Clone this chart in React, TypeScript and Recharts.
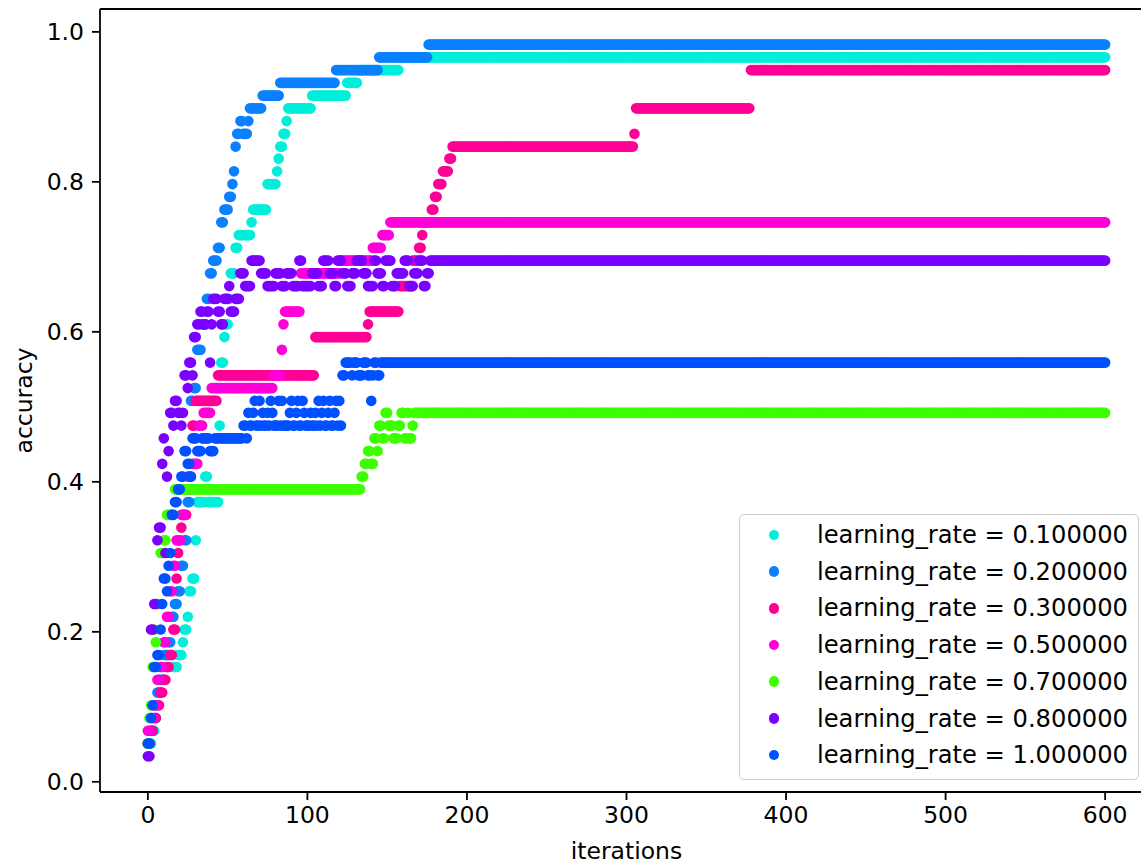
import React from 'react';
import { ScatterChart, Scatter, XAxis, YAxis, ReferenceLine } from 'recharts';

type Seg = [number, number, number]; // [first iteration, last iteration, accuracy]

const ITER_TICKS = [0, 100, 200, 300, 400, 500, 600];
const ACC_TICKS = [0, 0.2, 0.4, 0.6, 0.8, 1.0];
const ITER_DOMAIN: [number, number] = [-30, 630];
const ACC_DOMAIN: [number, number] = [-0.0136, 1.0305];

const LEARNING_RATES = ['0.100000', '0.200000', '0.300000', '0.500000', '0.700000', '0.800000', '1.000000'];
const COLORS = ['#00efda', '#0a80ff', '#ff0096', '#ff00d8', '#3cff00', '#7a00ff', '#0050ff'];

const lr010: Seg[] = [
  [0, 2, 0.051], [3, 4, 0.068], [5, 6, 0.102], [7, 9, 0.136], [10, 15, 0.169], [16, 18, 0.153],
  [19, 21, 0.169], [22, 22, 0.186], [23, 24, 0.203], [25, 25, 0.220], [26, 27, 0.254], [28, 29, 0.271],
  [30, 30, 0.322], [31, 35, 0.373], [36, 37, 0.407], [38, 44, 0.373], [45, 45, 0.475], [46, 47, 0.559],
  [48, 48, 0.593], [49, 50, 0.610], [51, 51, 0.644], [52, 54, 0.678], [55, 56, 0.712], [57, 64, 0.729],
  [65, 65, 0.746], [66, 74, 0.763], [75, 80, 0.797], [81, 81, 0.814], [82, 82, 0.831], [83, 84, 0.847],
  [85, 86, 0.864], [87, 87, 0.881], [88, 102, 0.898], [103, 124, 0.915], [125, 131, 0.932],
  [132, 157, 0.949], [158, 600, 0.966],
];

const lr020: Seg[] = [
  [0, 1, 0.051], [2, 3, 0.068], [4, 5, 0.085], [6, 8, 0.119], [9, 10, 0.136], [11, 12, 0.169],
  [13, 14, 0.186], [15, 16, 0.220], [17, 18, 0.237], [19, 20, 0.254], [21, 22, 0.288], [23, 24, 0.322],
  [25, 26, 0.373], [27, 28, 0.508], [29, 30, 0.525], [31, 33, 0.576], [34, 36, 0.610], [37, 38, 0.644],
  [39, 40, 0.678], [41, 43, 0.695], [44, 45, 0.712], [46, 47, 0.746], [48, 50, 0.763], [51, 52, 0.780],
  [53, 53, 0.797], [54, 54, 0.814], [55, 55, 0.847], [56, 57, 0.864], [58, 59, 0.881], [60, 62, 0.864],
  [63, 63, 0.881], [64, 71, 0.898], [72, 82, 0.915], [83, 117, 0.932], [118, 144, 0.949],
  [145, 175, 0.966], [176, 600, 0.983],
];

const lr030: Seg[] = [
  [0, 1, 0.051], [2, 3, 0.068], [4, 5, 0.085], [6, 7, 0.102], [8, 9, 0.119], [10, 11, 0.136],
  [12, 13, 0.153], [14, 15, 0.169], [16, 17, 0.203], [18, 18, 0.271], [19, 19, 0.305], [20, 20, 0.322],
  [21, 21, 0.339], [22, 24, 0.356], [25, 27, 0.407], [28, 29, 0.475], [30, 43, 0.508], [44, 104, 0.542],
  [105, 137, 0.593], [138, 138, 0.610], [139, 157, 0.627], [158, 165, 0.661], [166, 169, 0.695],
  [170, 171, 0.712], [172, 172, 0.729], [173, 177, 0.746], [178, 179, 0.763], [180, 181, 0.780],
  [182, 184, 0.797], [185, 188, 0.814], [189, 190, 0.831], [191, 304, 0.847], [305, 305, 0.864],
  [306, 377, 0.898], [378, 600, 0.949],
];

const lr050: Seg[] = [
  [0, 1, 0.068], [2, 3, 0.085], [4, 5, 0.102], [6, 7, 0.136], [8, 9, 0.153], [10, 11, 0.186],
  [12, 13, 0.220], [14, 15, 0.254], [16, 17, 0.288], [18, 20, 0.322], [21, 23, 0.356], [24, 27, 0.390],
  [28, 31, 0.424], [32, 34, 0.475], [35, 39, 0.492], [40, 78, 0.525], [79, 83, 0.542], [84, 84, 0.576],
  [85, 85, 0.610], [86, 95, 0.627], [96, 120, 0.678], [121, 140, 0.695], [141, 146, 0.712],
  [147, 151, 0.729], [152, 600, 0.746],
];

const lr070: Seg[] = [
  [0, 0, 0.051], [1, 1, 0.085], [2, 2, 0.102], [3, 3, 0.153], [4, 4, 0.203], [5, 5, 0.186],
  [6, 7, 0.237], [8, 9, 0.305], [10, 11, 0.322], [12, 16, 0.356], [17, 133, 0.390], [134, 135, 0.407],
  [136, 137, 0.424], [138, 139, 0.441], [140, 141, 0.424], [142, 143, 0.458], [144, 144, 0.441],
  [145, 146, 0.475], [147, 148, 0.458], [149, 150, 0.492], [151, 153, 0.475], [154, 156, 0.458],
  [157, 158, 0.475], [159, 160, 0.492], [161, 162, 0.458], [163, 163, 0.492], [164, 165, 0.458],
  [166, 166, 0.475], [167, 600, 0.492],
];

const lr080: Seg[] = [
  [0, 1, 0.034], [2, 3, 0.203], [4, 5, 0.237], [6, 6, 0.322], [7, 8, 0.339], [9, 9, 0.424],
  [10, 10, 0.458], [11, 11, 0.305], [12, 12, 0.407], [13, 13, 0.441], [14, 15, 0.492], [16, 16, 0.475],
  [17, 18, 0.508], [19, 20, 0.492], [21, 21, 0.475], [22, 22, 0.492], [23, 24, 0.542], [25, 25, 0.525],
  [26, 27, 0.559], [28, 28, 0.542], [29, 30, 0.593], [31, 32, 0.610], [33, 34, 0.627], [35, 36, 0.610],
  [37, 38, 0.627], [39, 39, 0.559], [40, 40, 0.610], [41, 43, 0.644], [44, 45, 0.627], [46, 47, 0.610],
  [48, 50, 0.644], [51, 51, 0.661], [52, 54, 0.627], [55, 57, 0.644], [58, 60, 0.678], [61, 64, 0.661],
  [65, 70, 0.695], [71, 74, 0.678], [75, 79, 0.661], [80, 83, 0.678], [84, 86, 0.661], [87, 90, 0.678],
  [91, 94, 0.661], [95, 96, 0.695], [97, 102, 0.661], [103, 106, 0.678], [107, 109, 0.661],
  [110, 113, 0.695], [114, 116, 0.678], [117, 118, 0.661], [119, 121, 0.695], [122, 124, 0.678],
  [125, 127, 0.661], [128, 130, 0.678], [131, 134, 0.695], [135, 137, 0.678], [138, 141, 0.661],
  [142, 143, 0.695], [144, 146, 0.678], [147, 148, 0.661], [149, 152, 0.695], [153, 155, 0.661],
  [156, 160, 0.678], [161, 163, 0.695], [164, 166, 0.661], [167, 169, 0.678], [170, 172, 0.695],
  [173, 174, 0.661], [175, 176, 0.678], [177, 600, 0.695],
];

const lr100: Seg[] = [
  [0, 1, 0.051], [2, 2, 0.085], [3, 3, 0.102], [4, 5, 0.153], [6, 7, 0.169], [8, 8, 0.203],
  [9, 9, 0.237], [10, 11, 0.271], [12, 12, 0.254], [13, 13, 0.288], [14, 14, 0.305], [15, 16, 0.356],
  [17, 18, 0.373], [19, 20, 0.390], [21, 22, 0.407], [23, 24, 0.441], [25, 26, 0.424], [27, 27, 0.407],
  [28, 30, 0.458], [31, 33, 0.441], [34, 38, 0.458], [39, 41, 0.441], [42, 59, 0.458],
  [60, 61, 0.475], [62, 62, 0.458], [63, 63, 0.492], [64, 65, 0.475], [66, 66, 0.492], [67, 67, 0.508],
  [68, 69, 0.475], [70, 70, 0.508], [71, 71, 0.475], [72, 72, 0.492], [73, 74, 0.475], [75, 75, 0.492],
  [76, 76, 0.475], [77, 77, 0.508], [78, 78, 0.492], [79, 81, 0.475], [82, 82, 0.508], [83, 83, 0.475],
  [84, 84, 0.508], [85, 88, 0.475], [89, 89, 0.492], [90, 90, 0.508], [91, 92, 0.475], [93, 93, 0.492],
  [94, 94, 0.508], [95, 96, 0.475], [97, 97, 0.508], [98, 98, 0.492], [99, 101, 0.475], [102, 102, 0.492],
  [103, 104, 0.475], [105, 105, 0.492], [106, 106, 0.475], [107, 107, 0.508], [108, 108, 0.475],
  [109, 109, 0.492], [110, 110, 0.508], [111, 112, 0.475], [113, 113, 0.492], [114, 114, 0.508],
  [115, 116, 0.475], [117, 117, 0.492], [118, 118, 0.508], [119, 119, 0.475], [120, 120, 0.508],
  [121, 121, 0.475], [122, 123, 0.542], [124, 127, 0.559], [128, 128, 0.542], [129, 131, 0.559],
  [132, 134, 0.542], [135, 137, 0.559], [138, 139, 0.542], [140, 140, 0.508], [141, 141, 0.542],
  [142, 143, 0.559], [144, 145, 0.542], [146, 600, 0.559],
];

const SERIES_SEGMENTS: Seg[][] = [lr010, lr020, lr030, lr050, lr070, lr080, lr100];

function expand(segs: Seg[]) {
  const pts: { x: number; y: number }[] = [];
  for (const [a, b, v] of segs) {
    for (let i = a; i <= b; i++) pts.push({ x: i, y: v });
  }
  return pts;
}

const FONT = 'DejaVu Sans, sans-serif';
const FS = 23.5;
const LEGEND_FS = 24.2;

export default function App() {
  const seriesData = SERIES_SEGMENTS.map(expand);
  return (
    <div style={{ position: 'absolute', left: 0, top: 0, width: 1141, height: 865, overflow: 'hidden', background: '#fff' }}>
      <ScatterChart width={1153} height={865} margin={{ top: 9, right: 0, bottom: 0, left: 0 }}>
        <XAxis
          type="number"
          dataKey="x"
          domain={ITER_DOMAIN}
          ticks={ITER_TICKS}
          allowDataOverflow
          height={73}
          tickSize={8}
          tickMargin={6}
          axisLine={{ stroke: '#000', strokeWidth: 1.8 }}
          tickLine={{ stroke: '#000', strokeWidth: 1.8 }}
          tick={{ fill: '#000', fontSize: FS, fontFamily: FONT }}
          label={{ value: 'iterations', position: 'insideBottom', offset: 6, style: { fill: '#000', fontSize: FS, fontFamily: FONT } }}
        />
        <YAxis
          type="number"
          dataKey="y"
          domain={ACC_DOMAIN}
          ticks={ACC_TICKS}
          allowDataOverflow
          width={100}
          tickSize={8}
          tickMargin={8}
          tickFormatter={(v: number) => v.toFixed(1)}
          axisLine={{ stroke: '#000', strokeWidth: 1.8 }}
          tickLine={{ stroke: '#000', strokeWidth: 1.8 }}
          tick={{ fill: '#000', fontSize: FS, fontFamily: FONT }}
          label={{
            content: () => (
              <text
                x={24}
                y={400.5}
                transform="rotate(-90 24 400.5)"
                textAnchor="middle"
                dominantBaseline="central"
                fill="#000"
                fontSize={FS}
                fontFamily={FONT}
              >
                accuracy
              </text>
            ),
          }}
        />
        <ReferenceLine y={ACC_DOMAIN[1]} stroke="#000" strokeWidth={1.8} ifOverflow="visible" />
        {seriesData.map((d, i) => (
          <Scatter
            key={LEARNING_RATES[i]}
            name={`learning_rate = ${LEARNING_RATES[i]}`}
            data={d}
            fill={COLORS[i]}
            isAnimationActive={false}
            shape={(p: any) => <circle cx={p.cx} cy={p.cy} r={5.3} fill={COLORS[i]} />}
          />
        ))}
      </ScatterChart>
      <div
        style={{
          position: 'absolute',
          left: 739,
          top: 514,
          width: 400,
          height: 266,
          boxSizing: 'border-box',
          border: '1.5px solid #cccccc',
          borderRadius: 5,
          background: 'rgba(255,255,255,0.8)',
          fontFamily: FONT,
          fontSize: LEGEND_FS,
          color: '#000',
        }}
      >
        {LEARNING_RATES.map((lr, i) => (
          <div
            key={lr}
            style={{ position: 'absolute', left: 0, top: 20 + i * 36.7 - 18, height: 36, width: 398, lineHeight: '36px', whiteSpace: 'nowrap' }}
          >
            <span
              style={{
                position: 'absolute',
                left: 34 - 5.3,
                top: 18 - 5.3,
                width: 10.6,
                height: 10.6,
                borderRadius: '50%',
                background: COLORS[i],
              }}
            />
            <span style={{ position: 'absolute', left: 77, top: 0 }}>{`learning_rate = ${lr}`}</span>
          </div>
        ))}
      </div>
    </div>
  );
}
